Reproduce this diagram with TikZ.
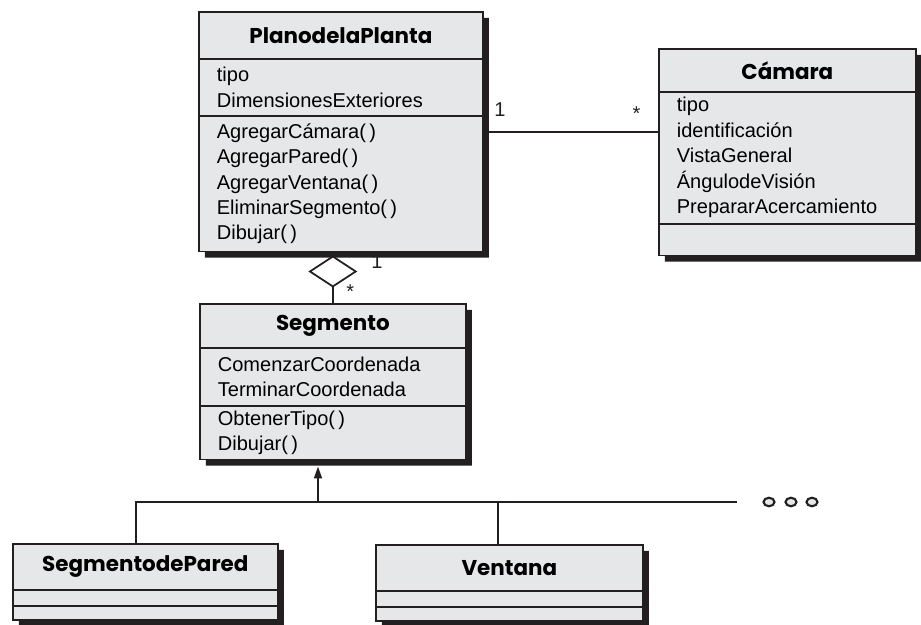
\documentclass[tikz,border=0pt]{standalone}
\usepackage{fontspec}
\setmainfont{Liberation Sans}
\newfontfamily\titulofont{Poppins}
\usepackage{tikz}
\usetikzlibrary{shapes.multipart,shadows,arrows.meta,positioning}
\definecolor{gris}{HTML}{E6E7E8}
\definecolor{tinta}{HTML}{231F20}

% partes de una clase
\newcommand{\cabecera}[3]{\parbox[c][#2][c]{#1}{\centering\titulofont\bfseries\fontsize{12.2}{13}\selectfont #3}}
\newcommand{\lista}[3]{\parbox[c][#2][c]{#1}{\raggedright\leftskip=0.36cm\fontsize{11.4}{14.5}\selectfont #3}}

\tikzset{
  clase/.style={rectangle split, rectangle split parts=3, draw=tinta, line width=1pt,
    fill=gris, inner sep=0pt, anchor=north west,
    drop shadow={shadow xshift=0.12cm, shadow yshift=-0.12cm, fill=tinta, opacity=1}},
  linea/.style={draw=tinta, line width=1pt},
  mult/.style={font=\fontsize{11.4}{13}\selectfont, inner sep=1pt, text=tinta},
  punto/.style={draw=tinta, line width=1.2pt, fill=gris}
}

\begin{document}
\begin{tikzpicture}[x=0.02cm, y=-0.02cm]
  \useasboundingbox (0,0) rectangle (921,625);
  % Clases
  \node[clase] (plano) at (198,11) {\cabecera{5.68cm}{0.90cm}{PlanodelaPlanta}
    \nodepart{two}\lista{5.68cm}{1.11cm}{tipo\\DimensionesExteriores}
    \nodepart{three}\lista{5.68cm}{2.68cm}{AgregarCámara(\,)\\AgregarPared(\,)\\AgregarVentana(\,)\\EliminarSegmento(\,)\\Dibujar(\,)}};
  \node[clase] (camara) at (658,48) {\cabecera{5.14cm}{0.82cm}{Cámara}
    \nodepart{two}\lista{5.14cm}{2.61cm}{tipo\\identificación\\VistaGeneral\\ÁngulodeVisión\\PrepararAcercamiento}
    \nodepart{three}\lista{5.14cm}{0.60cm}{}};
  \node[clase] (segmento) at (199,303) {\cabecera{5.32cm}{0.84cm}{Segmento}
    \nodepart{two}\lista{5.32cm}{1.13cm}{ComenzarCoordenada\\TerminarCoordenada}
    \nodepart{three}\lista{5.32cm}{1.04cm}{ObtenerTipo(\,)\\Dibujar(\,)}};
  \node[clase] (pared) at (12,543) {\cabecera{5.30cm}{0.88cm}{SegmentodePared}
    \nodepart{two}\lista{5.30cm}{0.29cm}{}
    \nodepart{three}\lista{5.30cm}{0.24cm}{}};
  \node[clase] (ventana) at (375,544) {\cabecera{5.34cm}{0.88cm}{Ventana}
    \nodepart{two}\lista{5.34cm}{0.29cm}{}
    \nodepart{three}\lista{5.34cm}{0.24cm}{}};

  % Asociacion
  \draw[linea] (plano.east) -- (plano.east -| camara.west)
    node[mult, pos=0, anchor=south west, xshift=0.16cm, yshift=0.26cm] (uno) {1}
    node[mult, pos=1, anchor=south east, xshift=-0.30cm, yshift=0.18cm] (muchos) {*};

  % Agregacion
  \draw[linea, -{Diamond[open, length=0.64cm, width=0.98cm]}, shorten >=0.06cm]
    (segmento.north) -- (segmento.north |- plano.south)
    node[mult, pos=0, anchor=west, xshift=0.22cm, yshift=0.22cm] (muchos2) {*}
    node[mult, pos=1, anchor=west, xshift=0.72cm, yshift=-0.18cm] (uno2) {1};

  % Herencia
  \coordinate (bus) at (318,502);
  \coordinate (busfin) at (737,502);
  \draw[linea] ([xshift=-0.19cm]pared.north) |- (busfin);
  \draw[linea] ([xshift=-0.23cm]ventana.north) -- ([xshift=-0.23cm]ventana.north |- bus);
  \draw[linea, -{Triangle[length=0.24cm, width=0.16cm]}, shorten >=0.12cm]
    (bus) -- (bus |- segmento.south);

  % Puntos
  \foreach \x in {769, 791, 812}
    \draw[punto] (\x,502) ellipse (0.11cm and 0.085cm);
\end{tikzpicture}
\end{document}
